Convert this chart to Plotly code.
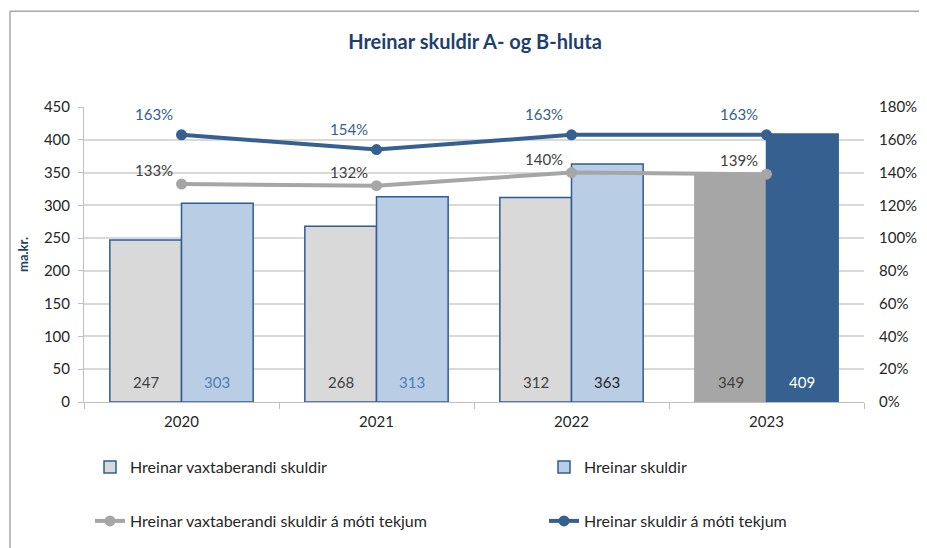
import plotly.graph_objects as go

years = ["2020", "2021", "2022", "2023"]
vaxta = [247, 268, 312, 349]
skuldir = [303, 313, 363, 409]
vaxta_pct = [133, 132, 140, 139]
skuldir_pct = [163, 154, 163, 163]
y_ticks = [0, 50, 100, 150, 200, 250, 300, 350, 400, 450]
y2_ticks = [0, 20, 40, 60, 80, 100, 120, 140, 160, 180]

FONT = "Lato, 'Open Sans', sans-serif"
NAVY = "#1F3F6E"
DARKBLUE = "#36608F"
OUTLINE = "#2F5C96"

gray_fill = ["#D9D9D9", "#D9D9D9", "#D9D9D9", "#A6A6A6"]
gray_line = [OUTLINE, OUTLINE, OUTLINE, "#A6A6A6"]
gray_text = ["#404040", "#404040", "#404040", "#404040"]
blue_fill = ["#B9CDE5", "#B9CDE5", "#B9CDE5", DARKBLUE]
blue_line = [OUTLINE, OUTLINE, OUTLINE, DARKBLUE]
blue_text = ["#4F7FB8", "#4F7FB8", "#262626", "#FFFFFF"]

# page offset: the browser body has an 8px margin
OFF = 8
W, H = 927 - OFF, 548 - OFF
PL, PT, PW, PH = 84, 107, 780, 296  # plot area in page pixels
BARGAP = 0.265

fig = go.Figure()

fig.add_trace(go.Bar(
    x=years, y=vaxta, name="Hreinar vaxtaberandi skuldir",
    marker=dict(color=gray_fill, line=dict(color=gray_line, width=1.5)),
    legend="legend", showlegend=True,
))
fig.add_trace(go.Bar(
    x=years, y=skuldir, name="Hreinar skuldir",
    marker=dict(color=blue_fill, line=dict(color=blue_line, width=1.5)),
    legend="legend2", showlegend=True,
))
fig.add_trace(go.Scatter(
    x=years, y=vaxta_pct, yaxis="y2", name="Hreinar vaxtaberandi skuldir á móti tekjum",
    mode="lines+markers", line=dict(color="#A6A6A6", width=4),
    marker=dict(size=11, color="#A6A6A6"), legend="legend3", showlegend=True,
))
fig.add_trace(go.Scatter(
    x=years, y=skuldir_pct, yaxis="y2", name="Hreinar skuldir á móti tekjum",
    mode="lines+markers", line=dict(color=DARKBLUE, width=4),
    marker=dict(size=11, color=DARKBLUE), legend="legend4", showlegend=True,
))

half = (1 - BARGAP) / 4  # offset of each bar centre from the category centre
annotations = []
for i, v in enumerate(skuldir_pct):
    annotations.append(dict(x=i, y=v, xref="x", yref="y2", text=f"{v}%",
                            showarrow=False, xshift=-28, yshift=21,
                            font=dict(size=15, color=DARKBLUE, family=FONT)))
for i, v in enumerate(vaxta_pct):
    annotations.append(dict(x=i, y=v, xref="x", yref="y2", text=f"{v}%",
                            showarrow=False, xshift=-28, yshift=14,
                            font=dict(size=15, color="#404040", family=FONT)))
for i, v in enumerate(vaxta):
    annotations.append(dict(x=i - half, y=0, xref="x", yref="y", text=str(v),
                            showarrow=False, yanchor="middle", yshift=20,
                            font=dict(size=15, color=gray_text[i], family=FONT)))
for i, v in enumerate(skuldir):
    annotations.append(dict(x=i + half, y=0, xref="x", yref="y", text=str(v),
                            showarrow=False, yanchor="middle", yshift=20,
                            font=dict(size=15, color=blue_text[i], family=FONT)))


def leg(xpx, ypx):
    return dict(orientation="h", x=(xpx - PL) / PW, xanchor="left",
                y=(PT + PH - ypx) / PH, yanchor="middle",
                font=dict(size=16, color="#262626"), bgcolor="rgba(0,0,0,0)")


fig.update_layout(
    width=W, height=H,
    margin=dict(l=PL - OFF, r=W - (PL - OFF) - PW, t=PT - OFF, b=H - (PT - OFF) - PH),
    paper_bgcolor="white", plot_bgcolor="white",
    showlegend=True,
    font=dict(family=FONT, size=15, color="#262626"),
    title=dict(text="<b>Hreinar skuldir A- og B-hluta</b>", x=(475 - OFF) / W, xanchor="center",
               y=1 - (42 - OFF) / H, yanchor="middle", font=dict(size=20, color=NAVY, family=FONT)),
    barmode="group", bargap=BARGAP, bargroupgap=0,
    xaxis=dict(type="category", showgrid=False, showline=True, linecolor="#BFBFBF",
               linewidth=1, ticks="outside", tickson="boundaries", ticklen=6,
               tickcolor="#BFBFBF", tickfont=dict(size=15, color="#262626"),
               ticklabelstandoff=6, range=[-0.5, 3.5]),
    yaxis=dict(range=[0, 450], tickvals=y_ticks, showgrid=True, gridcolor="#D9D9D9",
               gridwidth=1.5, showline=True, linecolor="#BFBFBF", ticks="outside",
               ticklen=5, tickcolor="#BFBFBF", zeroline=False, ticklabelstandoff=5,
               tickfont=dict(size=15, color="#262626"),
               title=dict(text="<b>ma.kr.</b>", font=dict(size=13, color=NAVY), standoff=12)),
    yaxis2=dict(range=[0, 180], tickvals=y2_ticks, ticktext=[f"{t}%" for t in y2_ticks],
                overlaying="y", side="right", showgrid=False, showline=False, automargin=False,
                zeroline=False, ticklabelstandoff=14, tickfont=dict(size=15, color="#262626")),
    legend=leg(90, 467),
    legend2=leg(544, 467),
    legend3=leg(90, 521),
    legend4=leg(544, 521),
    annotations=annotations,
    shapes=[
        dict(type="line", xref="paper", yref="paper", x0=(10 - PL) / PW, x1=(940 - PL) / PW,
             y0=1 + (PT - 11) / PH, y1=1 + (PT - 11) / PH, line=dict(color="#A6A6A6", width=1.5)),
        dict(type="line", xref="paper", yref="paper", x0=(10 - PL) / PW, x1=(10 - PL) / PW,
             y0=1 + (PT - 11) / PH, y1=(PT + PH - 560) / PH, line=dict(color="#A6A6A6", width=1.5)),
    ],
)

fig.write_html("out.html")
